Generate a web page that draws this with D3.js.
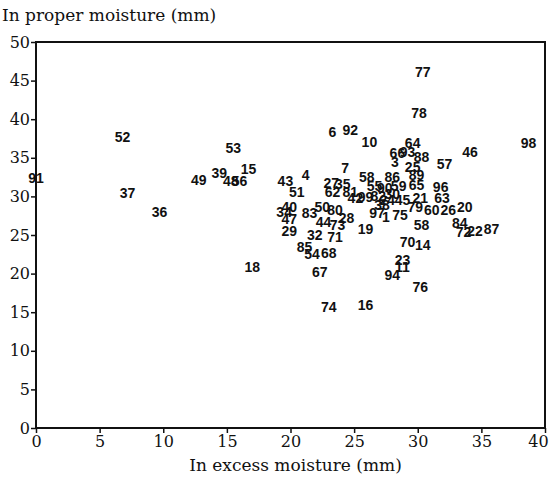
<!DOCTYPE html>
<html lang="en">
<head>
<meta charset="UTF-8">
<title>Moisture scatter</title>
<script src="https://d3js.org/d3.v7.min.js"></script>
<style>
  body { margin: 0; background: #fff; }
  .tick text { font-family: "DejaVu Serif", "Liberation Serif", serif; font-size: 16px; fill: #111; }
  .title { font-family: "DejaVu Serif", "Liberation Serif", serif; font-size: 17px; fill: #111; }
  .lbl { font-family: "Liberation Sans", Arial, sans-serif; font-weight: bold; font-size: 14px; fill: #111; }
</style>
</head>
<body>
<svg id="chart"></svg>
<script>
// point ids with their (excess, proper) moisture values
const ids = ["77","78","98","52","53","6","92","10","64","46","66","93","88","3","57","25","7","89","4","43",
  "58","86","65","96","51","27","35","62","81","42","99","55","90","59","30","82","24","45","21","63",
  "79","60","26","20","38","97","1","75","58","84","72","22","87","19","40","34","47","29","83","50",
  "80","28","44","73","71","32","85","54","68","67","74","16","18","70","14","23","11","94","76","15",
  "39","49","48","56","37","91","36"];
const excess = [30.4,30.1,38.7,6.8,15.5,23.3,24.7,26.2,29.6,34.1,28.4,29.2,30.3,28.2,32.1,29.6,24.3,29.9,21.2,19.6,
  26.0,28.0,29.9,31.8,20.5,23.2,24.1,23.3,24.7,25.1,25.9,26.6,27.4,28.5,28.0,26.9,27.6,28.8,30.2,31.9,
  29.8,31.1,32.4,33.7,27.2,26.8,27.5,28.6,30.3,33.3,33.6,34.5,35.8,25.9,19.9,19.5,19.9,19.9,21.5,22.5,
  23.5,24.4,22.6,23.7,23.5,21.9,21.1,21.7,23.0,22.3,23.0,25.9,17.0,29.2,30.4,28.8,28.8,28.0,30.2,16.7,
  14.4,12.8,15.3,16.0,7.2,0.0,9.7];
const proper = [46.1,40.8,36.9,37.7,36.3,38.3,38.6,37.0,36.9,35.8,35.6,35.8,35.1,34.5,34.2,33.8,33.7,32.8,32.8,32.0,
  32.5,32.5,31.5,31.2,30.6,31.7,31.6,30.6,30.6,29.8,29.9,31.3,31.1,31.3,30.3,30.1,29.5,29.5,29.8,29.8,
  28.6,28.2,28.2,28.6,28.9,27.8,27.3,27.6,26.3,26.6,25.4,25.5,25.8,25.8,28.6,28.0,27.1,25.5,27.8,28.6,
  28.2,27.2,26.7,26.3,24.7,25.0,23.4,22.5,22.7,20.2,15.7,15.9,20.9,24.1,23.7,21.8,20.9,19.8,18.3,33.5,
  33.0,32.1,32.0,32.0,30.4,32.4,28.0];
const xTicks = [0,5,10,15,20,25,30,35,40];
const yTicks = [0,5,10,15,20,25,30,35,40,45,50];

const width = 551, height = 484;
const margin = {top: 42, right: 6, bottom: 56, left: 36};
const svg = d3.select("#chart").attr("width", width).attr("height", height);

const x = d3.scaleLinear().domain([0, 40]).range([margin.left, width - margin.right]);
const y = d3.scaleLinear().domain([0, 50]).range([height - margin.bottom, margin.top]);

// frame
svg.append("rect")
  .attr("x", x(0)).attr("y", y(50))
  .attr("width", x(40) - x(0)).attr("height", y(0) - y(50))
  .attr("fill", "none").attr("stroke", "#111").attr("stroke-width", 2);

const xAxis = svg.append("g")
  .attr("transform", `translate(0,${y(0)})`)
  .call(d3.axisBottom(x).tickValues(xTicks).tickSize(5).tickPadding(3));
const yAxis = svg.append("g")
  .attr("transform", `translate(${x(0)},0)`)
  .call(d3.axisLeft(y).tickValues(yTicks).tickSize(5).tickPadding(1));
[xAxis, yAxis].forEach(g => {
  g.select(".domain").remove();
  g.selectAll(".tick line").attr("stroke", "#111").attr("stroke-width", 1.5);
});
// last x label sits against the right edge like the original
xAxis.selectAll(".tick text").filter(d => d === 40).attr("dx", -7);

svg.append("text").attr("class", "title")
  .attr("x", 2).attr("y", 21).text("In proper moisture (mm)");
svg.append("text").attr("class", "title")
  .attr("x", (x(0) + x(40)) / 2 + 5).attr("y", 471)
  .attr("text-anchor", "middle").text("In excess moisture (mm)");

svg.append("g").selectAll("text")
  .data(ids)
  .join("text")
  .attr("class", "lbl")
  .attr("x", (d, i) => x(excess[i]))
  .attr("y", (d, i) => y(proper[i]))
  .attr("text-anchor", "middle")
  .attr("dominant-baseline", "central")
  .text(d => d);
</script>
</body>
</html>
